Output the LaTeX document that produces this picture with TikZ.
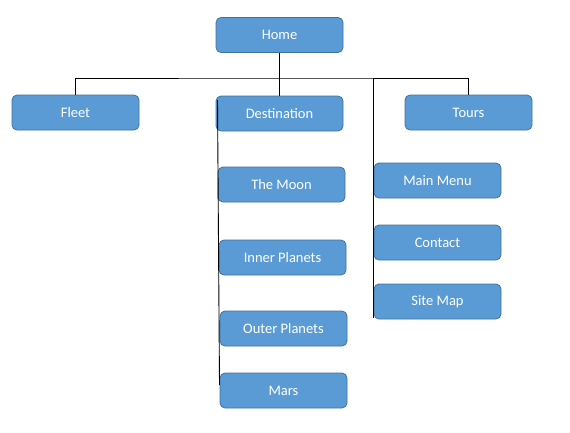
\documentclass[tikz,border=0pt]{standalone}
\usepackage{fontspec}
\setmainfont{Carlito}
\definecolor{boxfill}{HTML}{5B9BD5}
\definecolor{boxline}{HTML}{41719C}
\begin{document}
\begin{tikzpicture}[x=1pt,y=-1pt,
  box/.style={draw=boxline, fill=boxfill, rounded corners=5pt, line width=0.8pt,
    minimum width=127pt, minimum height=35pt, inner sep=0pt,
    text=white, font=\fontsize{14.5}{16}\selectfont},
  conn/.style={draw=black, line width=0.9pt}]
\useasboundingbox (0,0) rectangle (570,432);
\node[box] (home) at (279.5,35) {Home};
\node[box] (fleet) at (75.5,112.5) {Fleet};
\node[box] (dest) at (279.5,113.5) {Destination};
\node[box] (tours) at (468.5,112.5) {Tours};
\node[box] (moon) at (281.5,184.5) {The Moon};
\node[box] (inner) at (282.5,257.5) {Inner Planets};
\node[box] (outer) at (283.5,328.5) {Outer Planets};
\node[box] (mars) at (283.5,390.5) {Mars};
\node[box] (menu) at (437.5,180.5) {Main Menu};
\node[box] (contact) at (437.5,242.5) {Contact};
\node[box] (sitemap) at (437.5,301.5) {Site Map};
\coordinate (hc) at (279.5,78);
\coordinate (hm) at (373,78);
\coordinate (dtop) at (217.5,100);
\coordinate (dbot) at (219.5,385);
\coordinate (tbot) at (373,318);
\draw[conn] (home.south) -- (dest.north);
\draw[conn] (fleet.north) |- (hc) -| (tours.north);
\draw[conn] (hm) -- (tbot);
\draw[conn] (dtop) -- (dbot);
\end{tikzpicture}
\end{document}
